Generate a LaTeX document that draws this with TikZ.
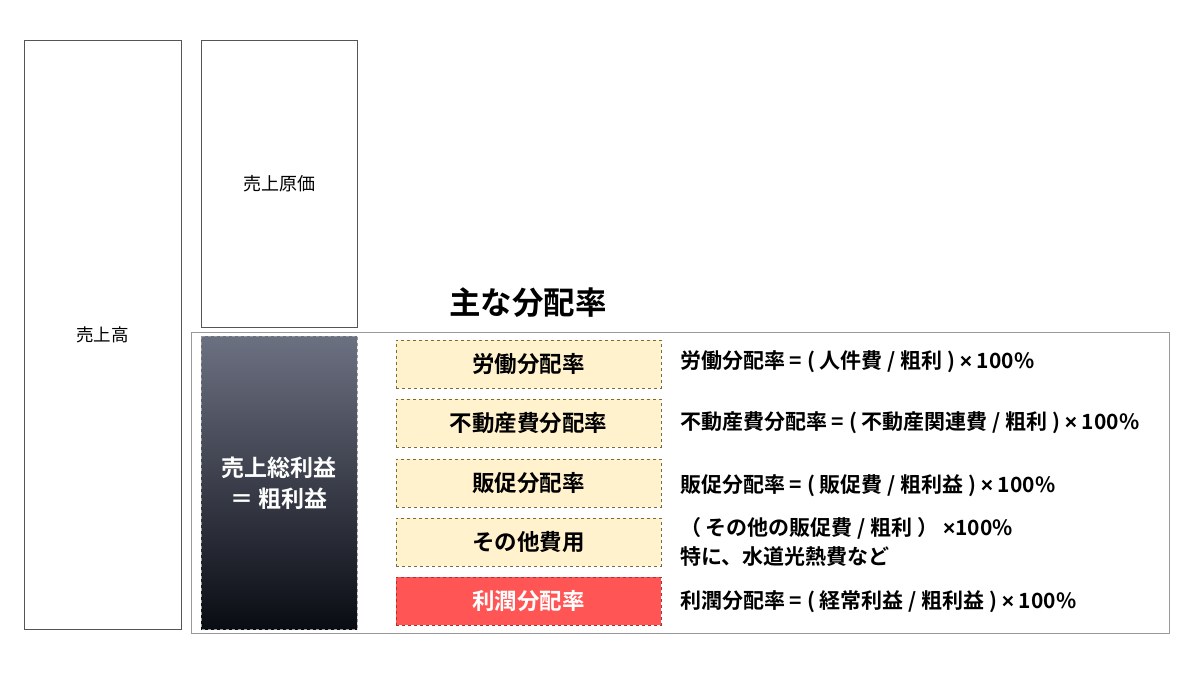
\documentclass[tikz,border=0pt]{standalone}
\usepackage{fontspec}
\setmainfont{Noto Sans CJK JP}
\newfontfamily\jpb{Noto Sans CJK JP Bold}
\newfontfamily\latb{Liberation Sans Bold}
\usetikzlibrary{positioning}
\definecolor{boxgray}{HTML}{555555}
\definecolor{outergray}{HTML}{999999}
\definecolor{yel}{HTML}{FFF2CC}
\definecolor{yelb}{HTML}{7F6A33}
\definecolor{redf}{HTML}{FF5555}
\definecolor{redb}{HTML}{B03030}
\definecolor{darktop}{HTML}{6C7182}
\definecolor{darkbot}{HTML}{0A0C13}
\newcommand{\tms}{{\latb ×}}
\begin{document}
\begin{tikzpicture}[x=1pt,y=-1pt,
  plainbox/.style={draw=boxgray,line width=0.8pt,fill=white},
  ratebox/.style={draw=yelb,dashed,line width=0.7pt,fill=yel,minimum width=265pt,minimum height=48pt,font=\jpb\fontsize{22.5}{26}\selectfont},
  formula/.style={anchor=west,font=\jpb\fontsize{21}{29}\selectfont,inner sep=0pt,align=left}]
\useasboundingbox (0,0) rectangle (1200,675);
\fill[white] (0,0) rectangle (1200,675);
% left boxes
\draw[plainbox] (24,40) rectangle (181,629);
\node[font=\fontsize{17.5}{20}\selectfont] (uriage) at (102.5,335) {売上高};
\draw[plainbox] (201,40) rectangle (357,327);
\node[font=\fontsize{18}{20}\selectfont] (genka) at (279,184) {売上原価};
% outer frame
\draw[outergray,line width=1pt] (191,332) rectangle (1169,633);
% dark box
\shade[top color=darktop,bottom color=darkbot] (201,336) rectangle (357,629);
\draw[outergray,dashed,line width=0.6pt] (201,336) rectangle (357,629);
\node[text=white,font=\jpb\fontsize{23}{31}\selectfont,align=center] (arari) at (279,483) {売上総利益\\＝ 粗利益};
% title
\node[font=\jpb\fontsize{31.5}{34}\selectfont] (title) at (528,303) {主な分配率};
% rate boxes
\node[ratebox] (r1) at (528.5,364) {労働分配率};
\node[ratebox] (r2) at (528.5,423) {不動産費分配率};
\node[ratebox] (r3) at (528.5,483) {販促分配率};
\node[ratebox] (r4) at (528.5,542) {その他費用};
\node[ratebox,draw=redb,fill=redf,text=white] (r5) at (528.5,601) {利潤分配率};
% formulas
\node[formula] (f1) at (680,362) {労働分配率 = ( 人件費 / 粗利 ) \tms{} 100\%};
\node[formula] (f2) at (680,423) {不動産費分配率 = ( 不動産関連費 / 粗利 ) \tms{} 100\%};
\node[formula] (f3) at (680,486) {販促分配率 = ( 販促費 / 粗利益 ) \tms{} 100\%};
\node[formula] (f4) at (680,541.5) {（ その他の販促費 / 粗利 ） \tms100\%\\特に、水道光熱費など};
\node[formula] (f5) at (680,602) {利潤分配率 = ( 経常利益 / 粗利益 ) \tms{} 100\%};
\end{tikzpicture}
\end{document}
